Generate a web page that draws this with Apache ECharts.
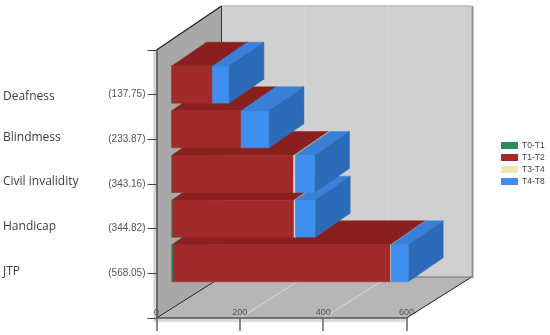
<!DOCTYPE html>
<html>
<head>
<meta charset="utf-8">
<style>
  html, body { margin: 0; padding: 0; background: #fff; }
  #chart { width: 550px; height: 335px; }
</style>
<script src="https://cdn.jsdelivr.net/npm/echarts@6/dist/echarts.min.js"></script>
</head>
<body>
<div id="chart"></div>
<script>
// bottom to top, same order as the axis
const names = ['JTP', 'Handicap', 'Civil invalidity', 'Blindmess', 'Deafness'];
const totals = ['(568.05)', '(344.82)', '(343.16)', '(233.87)', '(137.75)'];
const t0t1 = [4, 3, 2, 0, 0];
const t1t2 = [522, 291, 291, 167, 98];
const t3t4 = [1, 3, 4, 0, 0];
const t4t8 = [41.05, 47.82, 46.16, 66.87, 39.75];
const xTicks = [0, 200, 400, 600];

const segments = [
  { name: 'T0-T1', values: t0t1, front: '#2e8b57', top: '#26754a', side: '#1f6640' },
  { name: 'T1-T2', values: t1t2, front: '#a32a2a', top: '#8a1f1f', side: '#7c1c1c' },
  { name: 'T3-T4', values: t3t4, front: '#eee8aa', top: '#c9b98c', side: '#c9c48e' },
  { name: 'T4-T8', values: t4t8, front: '#3f8ff0', top: '#3a7fd8', side: '#2c6bb8' }
];

// wall depth and where the bars sit inside it
const wallDepth = [65, -41];
const wallTopRise = 3;
const barShift = [15, -10];
const barDepth = [35, -24];
const barHeight = 37;

const poly = (points, fill, stroke) => ({
  type: 'polygon',
  shape: { points },
  style: { fill, stroke: stroke || fill, lineWidth: stroke ? 1 : 0.5 }
});
const line = (a, b, stroke, lineWidth) => ({
  type: 'line',
  shape: { x1: a[0], y1: a[1], x2: b[0], y2: b[1] },
  style: { stroke, lineWidth }
});
const back = (p) => [p[0] + wallDepth[0], p[1] + wallDepth[1]];

function renderWalls(params, api) {
  const o = api.coord([0, 0]);
  const top = api.coord([0, 6]);
  const end = api.coord([600, 0]);
  const backTop = [back(top)[0], back(top)[1] - wallTopRise];
  const kids = [
    // soft shadow round the front edges
    poly([[o[0] - 3, top[1]], [o[0], top[1]], [o[0], o[1] + 4], [o[0] - 3, o[1] + 4]], '#d6d6d6'),
    poly([[o[0], o[1]], end, [end[0] + 3, end[1]], [end[0] - 2, end[1] + 4], [o[0], o[1] + 4]], '#dcdcdc'),
    poly([backTop, [back(end)[0], backTop[1]], back(end), back(o)], '#d0d0d0'),
    poly([top, backTop, back(o), o], '#a8a8a8'),
    poly([o, end, back(end), back(o)], '#b6b6b6'),
    // right and top rims of the back wall
    line([back(end)[0] + 1, backTop[1]], [back(end)[0] + 1, back(end)[1] + 1], '#8f8f8f', 2),
    line(backTop, [back(end)[0], backTop[1]], '#bdbdbd', 1.5),
    line(top, backTop, '#222', 1.2),
    line(backTop, back(o), '#333', 1),
    line(o, back(o), '#222', 1),
    line(end, back(end), '#222', 1),
    line(back(o), back(end), '#777', 1)
  ];
  xTicks.slice(1, 3).forEach((v) => {
    const p = api.coord([v, 0]);
    kids.push(line(p, back(p), '#d8d8d8', 1));
    kids.push(line(back(p), [back(p)[0], backTop[1]], '#d9d9d9', 1));
  });
  return { type: 'group', children: kids };
}

function renderSegment(seg) {
  return function (params, api) {
    const a = api.coord([api.value(0), api.value(2)]);
    const b = api.coord([api.value(1), api.value(2)]);
    const x0 = a[0] + barShift[0];
    const x1 = b[0] + barShift[0];
    const yBottom = a[1] + barShift[1] + barHeight / 2;
    const yTop = yBottom - barHeight;
    const dx = barDepth[0];
    const dy = barDepth[1];
    return {
      type: 'group',
      children: [
        poly([[x0, yTop], [x1, yTop], [x1 + dx, yTop + dy], [x0 + dx, yTop + dy]], seg.top),
        poly([[x1, yTop], [x1 + dx, yTop + dy], [x1 + dx, yBottom + dy], [x1, yBottom]], seg.side),
        poly([[x0, yTop], [x1, yTop], [x1, yBottom], [x0, yBottom]], seg.front)
      ]
    };
  };
}

// stack the four periods on each row
const running = names.map(() => 0);
const barSeries = segments.map((seg) => {
  const data = [];
  seg.values.forEach((v, i) => {
    if (v > 0) data.push([running[i], running[i] + v, i + 1]);
    running[i] += v;
  });
  return {
    name: seg.name,
    type: 'custom',
    clip: false,
    z: 3,
    color: seg.front,
    itemStyle: { color: seg.front },
    encode: { x: [0, 1], y: 2 },
    data,
    renderItem: renderSegment(seg)
  };
});

// the hand-set name column sits a little above the ticks
const nameTop = [264, 219, 174, 130, 89];

const chart = echarts.init(document.getElementById('chart'), null, { renderer: 'canvas' });
chart.setOption({
  animation: false,
  backgroundColor: '#fff',
  textStyle: { fontFamily: '"Liberation Sans", Arial, sans-serif' },
  grid: { left: 156.5, top: 50, width: 250, height: 268, containLabel: false },
  legend: {
    orient: 'vertical',
    left: 496,
    top: 136,
    itemWidth: 17,
    itemHeight: 7,
    itemGap: 3,
    icon: 'rect',
    data: segments.map((s) => s.name),
    textStyle: { fontSize: 8.5, color: '#444', padding: [0, 0, 0, -1] }
  },
  xAxis: {
    type: 'value',
    min: 0,
    max: 600,
    interval: 200,
    z: 5,
    splitLine: { show: false },
    axisLine: { show: true, lineStyle: { color: '#555', width: 1.5 } },
    axisTick: { show: true, length: 13, lineStyle: { color: '#666', width: 1.5 } },
    axisLabel: { inside: true, margin: 1, fontSize: 9, color: '#555', showMinLabel: true, showMaxLabel: true }
  },
  yAxis: {
    type: 'category',
    boundaryGap: false,
    data: ['', ...totals, ''],
    z: 5,
    axisLine: { show: true, onZero: false, lineStyle: { color: '#555', width: 1.5 } },
    axisTick: { show: true, length: 9, alignWithLabel: true, lineStyle: { color: '#444' } },
    axisLabel: { margin: 11, fontSize: 10, color: '#555', interval: 0, padding: [2, 0, 0, 0] }
  },
  graphic: names.map((name, i) => ({
    type: 'text',
    left: 3,
    top: nameTop[i],
    silent: true,
    style: { text: name, fontSize: 12, fontFamily: '"Open Sans", sans-serif', fill: '#3c3c3c', lineHeight: 16, verticalAlign: 'top' }
  })),
  series: [
    {
      type: 'custom',
      silent: true,
      clip: false,
      z: 1,
      data: [[0, 0]],
      renderItem: renderWalls
    },
    ...barSeries
  ]
});
</script>
</body>
</html>
